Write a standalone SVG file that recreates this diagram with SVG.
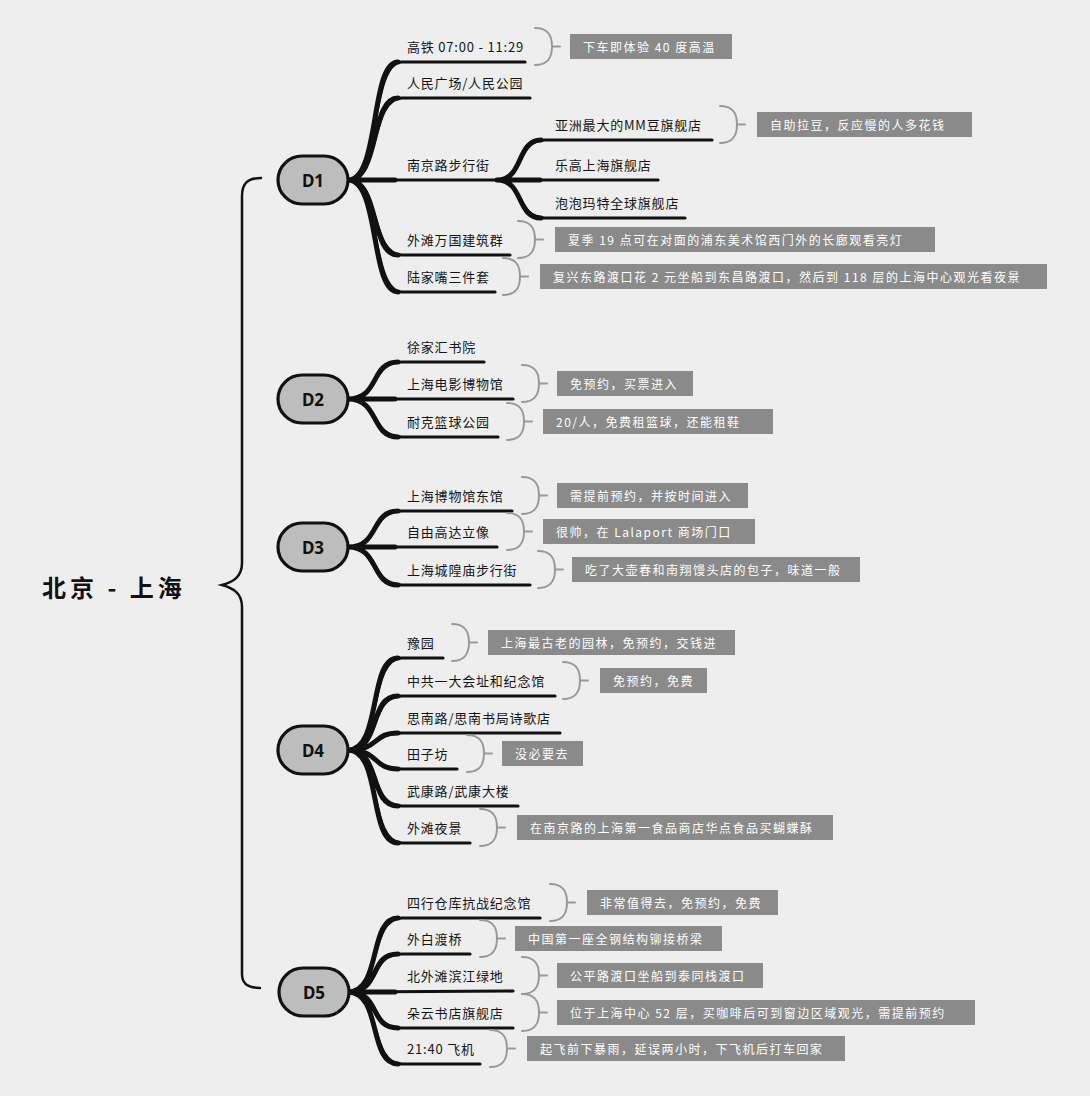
<svg xmlns="http://www.w3.org/2000/svg" width="1090" height="1096" viewBox="0 0 1090 1096">
<style>
.t{font-family:"Noto Sans CJK SC","Noto Sans",sans-serif;font-size:13px;fill:#151515;letter-spacing:0.8px;dominant-baseline:central}
.nt{font-family:"Noto Sans CJK SC","Noto Sans",sans-serif;font-size:12px;fill:#fff;letter-spacing:1.5px;dominant-baseline:central}
.title{font-family:"Noto Sans CJK SC","Noto Sans",sans-serif;font-size:24px;font-weight:bold;fill:#111;letter-spacing:4px;dominant-baseline:central}
.nl{font-family:"Noto Sans","Noto Sans CJK SC",sans-serif;font-size:17px;font-weight:bold;fill:#111;text-anchor:middle;dominant-baseline:central}
.day{fill:#bdbdbd;stroke:#111;stroke-width:3.2}
.c{fill:none;stroke:#111;stroke-width:3.2;stroke-linecap:round;stroke-linejoin:round}
.cw{fill:none;stroke:#111;stroke-width:5;stroke-linecap:round}
.brace{fill:none;stroke:#111;stroke-width:2.5;stroke-linecap:round}
.br{fill:none;stroke:#999;stroke-width:2;stroke-linecap:round}
.nb{fill:#8a8a8a}
</style>
<rect width="1090" height="1096" fill="#eeeeee"/>

<g id="connectors">
  <path class="brace" d="M261 178 C248 178 242 183 242 196 L242 563 C242 577 233 582 222 585 C233 588 242 593 242 607 L242 974 C242 984 248 988 260 988"/>
  <!-- D1 -->
  <path class="c" d="M348 180 C380 180 370 62 402 62 L525 62"/>
  <path class="c" d="M348 180 C380 180 370 98 402 98 L530 98"/>
  <path class="c" d="M348 180 L658 180"/>
  <path class="c" d="M348 180 C380 180 370 255 402 255 L510 255"/>
  <path class="c" d="M348 180 C380 180 370 292 402 292 L495 292"/>
  <path class="c" d="M497 180 C524 180 516 140 545 140 L712 140"/>
  <path class="c" d="M497 180 C524 180 516 218 545 218 L685 218"/>
  <path class="cw" d="M348 180 C380 180 370 62 398 62 M348 180 C380 180 370 98 398 98 M348 180 H395 M348 180 C380 180 370 255 398 255 M348 180 C380 180 370 292 398 292 M497 180 C524 180 516 140 541 140 M497 180 C524 180 516 218 541 218 M497 180 H540"/>
  <!-- D2 -->
  <path class="c" d="M348 399 C380 399 370 362 402 362 L484 362"/>
  <path class="c" d="M348 399 L513 399"/>
  <path class="c" d="M348 399 C380 399 370 437 402 437 L498 437"/>
  <path class="cw" d="M348 399 C380 399 370 362 398 362 M348 399 H395 M348 399 C380 399 370 437 398 437"/>
  <!-- D3 -->
  <path class="c" d="M348 547 C380 547 370 511 402 511 L512 511"/>
  <path class="c" d="M348 547 L497 547"/>
  <path class="c" d="M348 547 C380 547 370 585 402 585 L530 585"/>
  <path class="cw" d="M348 547 C380 547 370 511 398 511 M348 547 H395 M348 547 C380 547 370 585 398 585"/>
  <!-- D4 -->
  <path class="c" d="M348 750 C382 750 368 658 402 658 L443 658"/>
  <path class="c" d="M348 750 C382 750 368 696 402 696 L555 696"/>
  <path class="c" d="M348 750 C380 750 372 733 402 733 L560 733"/>
  <path class="c" d="M348 750 C380 750 372 769 402 769 L457 769"/>
  <path class="c" d="M348 750 C382 750 368 806 402 806 L518 806"/>
  <path class="c" d="M348 750 C382 750 368 843 402 843 L470 843"/>
  <path class="cw" d="M348 750 C382 750 368 658 398 658 M348 750 C382 750 368 696 398 696 M348 750 C380 750 372 733 398 733 M348 750 C380 750 372 769 398 769 M348 750 C382 750 368 806 398 806 M348 750 C382 750 368 843 398 843"/>
  <!-- D5 -->
  <path class="c" d="M348 992 C382 992 368 918 402 918 L540 918"/>
  <path class="c" d="M348 992 C382 992 368 954 402 954 L470 954"/>
  <path class="c" d="M348 992 L513 991"/>
  <path class="c" d="M348 992 C382 992 368 1028 402 1028 L513 1028"/>
  <path class="c" d="M348 992 C382 992 368 1064 402 1064 L480 1064"/>
  <path class="cw" d="M348 992 C382 992 368 918 398 918 M348 992 C382 992 368 954 398 954 M348 992 H395 M348 992 C382 992 368 1028 398 1028 M348 992 C382 992 368 1064 398 1064"/>
</g>

<g id="root">
  <text class="title" x="42" y="586">北京 - 上海</text>
</g>

<g id="d1">
  <rect class="day" x="278" y="156" width="70" height="48" rx="24"/>
  <text class="nl" x="313" y="180">D1</text>
</g>
<g id="d1-1">
  <text class="t" x="407" y="46">高铁 07:00 - 11:29</text>
  <path class="br" d="M535 28 C547 28 552 34 552 46.5 C552 59 547 65 535 65 M552 46.5 H560"/>
  <rect class="nb" x="570" y="34" width="162" height="25"/>
  <text class="nt" x="583" y="46.5">下车即体验 40 度高温</text>
</g>
<g id="d1-2">
  <text class="t" x="407" y="82">人民广场/人民公园</text>
</g>
<g id="d1-3">
  <text class="t" x="407" y="164">南京路步行街</text>
</g>
<g id="d1-3-1">
  <text class="t" x="555" y="124">亚洲最大的MM豆旗舰店</text>
  <path class="br" d="M720 106 C732 106 737 112 737 124.5 C737 137 732 143 720 143 M737 124.5 H745"/>
  <rect class="nb" x="757" y="112" width="215" height="25"/>
  <text class="nt" x="770" y="124.5">自助拉豆，反应慢的人多花钱</text>
</g>
<g id="d1-3-2">
  <text class="t" x="555" y="164">乐高上海旗舰店</text>
</g>
<g id="d1-3-3">
  <text class="t" x="555" y="202">泡泡玛特全球旗舰店</text>
</g>
<g id="d1-4">
  <text class="t" x="407" y="239">外滩万国建筑群</text>
  <path class="br" d="M518 221 C530 221 535 227 535 239.5 C535 252 530 258 518 258 M535 239.5 H543"/>
  <rect class="nb" x="555" y="227" width="380" height="25"/>
  <text class="nt" x="568" y="239.5">夏季 19 点可在对面的浦东美术馆西门外的长廊观看亮灯</text>
</g>
<g id="d1-5">
  <text class="t" x="407" y="276">陆家嘴三件套</text>
  <path class="br" d="M503 258 C515 258 520 264 520 276.5 C520 289 515 295 503 295 M520 276.5 H528"/>
  <rect class="nb" x="540" y="264" width="507" height="25"/>
  <text class="nt" x="553" y="276.5">复兴东路渡口花 2 元坐船到东昌路渡口，然后到 118 层的上海中心观光看夜景</text>
</g>

<g id="d2">
  <rect class="day" x="278" y="375" width="70" height="48" rx="24"/>
  <text class="nl" x="313" y="399">D2</text>
</g>
<g id="d2-1">
  <text class="t" x="407" y="346">徐家汇书院</text>
</g>
<g id="d2-2">
  <text class="t" x="407" y="383">上海电影博物馆</text>
  <path class="br" d="M522 365 C534 365 539 371 539 383.5 C539 396 534 402 522 402 M539 383.5 H547"/>
  <rect class="nb" x="557" y="371" width="136" height="25"/>
  <text class="nt" x="570" y="383.5">免预约，买票进入</text>
</g>
<g id="d2-3">
  <text class="t" x="407" y="421">耐克篮球公园</text>
  <path class="br" d="M507 403 C519 403 524 409 524 421.5 C524 434 519 440 507 440 M524 421.5 H532"/>
  <rect class="nb" x="543" y="409" width="230" height="25"/>
  <text class="nt" x="556" y="421.5">20/人，免费租篮球，还能租鞋</text>
</g>

<g id="d3">
  <rect class="day" x="278" y="523" width="70" height="48" rx="24"/>
  <text class="nl" x="313" y="547">D3</text>
</g>
<g id="d3-1">
  <text class="t" x="407" y="495">上海博物馆东馆</text>
  <path class="br" d="M522 477 C534 477 539 483 539 495.5 C539 508 534 514 522 514 M539 495.5 H547"/>
  <rect class="nb" x="557" y="483" width="191" height="25"/>
  <text class="nt" x="570" y="495.5">需提前预约，并按时间进入</text>
</g>
<g id="d3-2">
  <text class="t" x="407" y="531">自由高达立像</text>
  <path class="br" d="M507 513 C519 513 524 519 524 531.5 C524 544 519 550 507 550 M524 531.5 H532"/>
  <rect class="nb" x="543" y="519" width="212" height="25"/>
  <text class="nt" x="556" y="531.5">很帅，在 Lalaport 商场门口</text>
</g>
<g id="d3-3">
  <text class="t" x="407" y="569">上海城隍庙步行街</text>
  <path class="br" d="M538 551 C550 551 555 557 555 569.5 C555 582 550 588 538 588 M555 569.5 H563"/>
  <rect class="nb" x="572" y="557" width="288" height="25"/>
  <text class="nt" x="585" y="569.5">吃了大壶春和南翔馒头店的包子，味道一般</text>
</g>

<g id="d4">
  <rect class="day" x="278" y="726" width="70" height="48" rx="24"/>
  <text class="nl" x="313" y="750">D4</text>
</g>
<g id="d4-1">
  <text class="t" x="407" y="642">豫园</text>
  <path class="br" d="M452 624 C464 624 469 630 469 642.5 C469 655 464 661 452 661 M469 642.5 H477"/>
  <rect class="nb" x="488" y="630" width="247" height="25"/>
  <text class="nt" x="501" y="642.5">上海最古老的园林，免预约，交钱进</text>
</g>
<g id="d4-2">
  <text class="t" x="407" y="680">中共一大会址和纪念馆</text>
  <path class="br" d="M563 662 C575 662 580 668 580 680.5 C580 693 575 699 563 699 M580 680.5 H588"/>
  <rect class="nb" x="600" y="668" width="107" height="25"/>
  <text class="nt" x="613" y="680.5">免预约，免费</text>
</g>
<g id="d4-3">
  <text class="t" x="407" y="717">思南路/思南书局诗歌店</text>
</g>
<g id="d4-4">
  <text class="t" x="407" y="753">田子坊</text>
  <path class="br" d="M467 735 C479 735 484 741 484 753.5 C484 766 479 772 467 772 M484 753.5 H492"/>
  <rect class="nb" x="502" y="741" width="81" height="25"/>
  <text class="nt" x="515" y="753.5">没必要去</text>
</g>
<g id="d4-5">
  <text class="t" x="407" y="790">武康路/武康大楼</text>
</g>
<g id="d4-6">
  <text class="t" x="407" y="827">外滩夜景</text>
  <path class="br" d="M480 809 C492 809 497 815 497 827.5 C497 840 492 846 480 846 M497 827.5 H505"/>
  <rect class="nb" x="517" y="815" width="316" height="25"/>
  <text class="nt" x="530" y="827.5">在南京路的上海第一食品商店华点食品买蝴蝶酥</text>
</g>

<g id="d5">
  <rect class="day" x="279" y="968" width="70" height="48" rx="24"/>
  <text class="nl" x="314" y="992">D5</text>
</g>
<g id="d5-1">
  <text class="t" x="407" y="902">四行仓库抗战纪念馆</text>
  <path class="br" d="M550 884 C562 884 567 890 567 902.5 C567 915 562 921 550 921 M567 902.5 H575"/>
  <rect class="nb" x="587" y="890" width="191" height="25"/>
  <text class="nt" x="600" y="902.5">非常值得去，免预约，免费</text>
</g>
<g id="d5-2">
  <text class="t" x="407" y="938">外白渡桥</text>
  <path class="br" d="M480 920 C492 920 497 926 497 938.5 C497 951 492 957 480 957 M497 938.5 H505"/>
  <rect class="nb" x="515" y="926" width="207" height="25"/>
  <text class="nt" x="528" y="938.5">中国第一座全钢结构铆接桥梁</text>
</g>
<g id="d5-3">
  <text class="t" x="407" y="975">北外滩滨江绿地</text>
  <path class="br" d="M522 957 C534 957 539 963 539 975.5 C539 988 534 994 522 994 M539 975.5 H547"/>
  <rect class="nb" x="557" y="963" width="206" height="25"/>
  <text class="nt" x="570" y="975.5">公平路渡口坐船到泰同栈渡口</text>
</g>
<g id="d5-4">
  <text class="t" x="407" y="1012">朵云书店旗舰店</text>
  <path class="br" d="M522 994 C534 994 539 1000 539 1012.5 C539 1025 534 1031 522 1031 M539 1012.5 H547"/>
  <rect class="nb" x="557" y="1000" width="418" height="25"/>
  <text class="nt" x="570" y="1012.5">位于上海中心 52 层，买咖啡后可到窗边区域观光，需提前预约</text>
</g>
<g id="d5-5">
  <text class="t" x="407" y="1048">21:40 飞机</text>
  <path class="br" d="M490 1030 C502 1030 507 1036 507 1048.5 C507 1061 502 1067 490 1067 M507 1048.5 H515"/>
  <rect class="nb" x="527" y="1036" width="318" height="25"/>
  <text class="nt" x="540" y="1048.5">起飞前下暴雨，延误两小时，下飞机后打车回家</text>
</g>
</svg>
